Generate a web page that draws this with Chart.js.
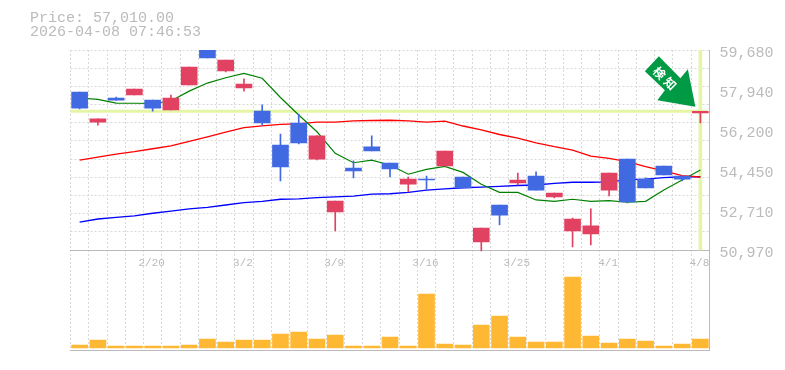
<!DOCTYPE html>
<html>
<head>
<meta charset="utf-8">
<style>
  html, body { margin: 0; background: #fff; }
  canvas { display: block; }
</style>
<script src="https://cdn.jsdelivr.net/npm/chart.js@4"></script>
</head>
<body>
<canvas id="chart" width="785" height="370"></canvas>
<script>
const categories = ['', '', '', '', '2/20', '', '', '', '', '3/2', '', '', '', '', '3/9', '', '', '', '', '3/16', '', '', '', '', '3/25', '', '', '', '', '4/1', '', '', '', '', '4/8'];
const opens = [57850, 56540, 57590, 57720, 57500, 57070, 58160, 59850, 58770, 58030, 57020, 55540, 56500, 54930, 52630, 54540, 55460, 54760, 53840, 54060, 54630, 54150, 51320, 52930, 53890, 54190, 53280, 51800, 51670, 53580, 54930, 54060, 54630, 54190, 56940];
const closes = [57150, 56680, 57500, 57980, 57150, 57590, 58940, 59330, 59240, 58200, 56500, 54590, 55630, 55940, 53100, 54410, 55280, 54500, 54060, 54020, 55280, 53670, 51930, 52490, 54020, 53580, 53450, 52320, 52020, 54320, 53060, 53670, 54240, 54060, 57010];
const highs = [57850, 56680, 57630, 57980, 57500, 57720, 58940, 59850, 59240, 58420, 57290, 56020, 56890, 55940, 53100, 54850, 55940, 54760, 54150, 54190, 55280, 54150, 51930, 52930, 54320, 54370, 53450, 52360, 52760, 54320, 54930, 54110, 54630, 54190, 57010];
const lows = [57110, 56410, 57500, 57720, 57020, 57070, 58160, 59330, 58720, 57890, 56410, 53980, 55590, 54890, 51800, 54110, 55280, 54150, 53500, 53630, 54630, 53670, 50930, 52060, 53800, 53580, 53240, 51100, 51190, 53320, 53020, 53670, 54240, 53980, 56500];
const maShort = [57590, 57530, 57370, 57360, 57350, 57460, 57890, 58240, 58470, 58660, 58450, 57610, 56850, 56120, 55180, 54770, 54880, 54670, 54270, 54480, 54610, 54350, 53830, 53480, 53480, 53150, 53090, 53180, 53090, 53120, 53050, 53090, 53580, 54020, 54450];
const maMid = [54880, 55010, 55150, 55250, 55380, 55500, 55700, 55900, 56100, 56300, 56380, 56440, 56460, 56540, 56540, 56590, 56610, 56620, 56590, 56540, 56580, 56370, 56200, 56000, 55840, 55640, 55470, 55320, 55060, 54960, 54820, 54600, 54420, 54210, 54150];
const maLong = [52180, 52320, 52390, 52460, 52570, 52660, 52760, 52830, 52930, 53030, 53090, 53180, 53200, 53250, 53280, 53320, 53400, 53420, 53480, 53580, 53630, 53680, 53710, 53740, 53780, 53800, 53870, 53920, 53920, 53940, 54020, 54060, 54120, 54160, 54160];
const volumes = [3, 8, 2, 2, 2, 2, 3, 9, 6, 8, 8, 14, 16, 9, 13, 2, 2, 11, 2, 54, 4, 3, 23, 32, 11, 6, 6, 71, 12, 5, 9, 7, 2, 4, 9];
const priceTicks = [59680, 57940, 56200, 54450, 52710, 50970];
const gridRows = [0, 1, 2, 3, 4, 5, 6, 7, 8, 9, 10, 11];
const currentPrice = 57010;
const priceText = 'Price: 57,010.00';
const timeText = '2026-04-08 07:46:53';

const RED = '#e24262';
const BLUE = '#4169e1';
const LIME = '#e4f5a6';
const GRID = '#d8d8d8';
const EDGE = '#bbbbbb';
const TEXT = '#bbbbbb';

const bodies = opens.map((o, i) => [o, closes[i]]);
const wicks = lows.map((l, i) => [l, highs[i]]);
const candleColors = opens.map((o, i) => closes[i] >= o ? RED : BLUE);
const lastIndex = categories.length - 1;
const priceMarker = categories.map((_, i) => i === lastIndex ? [priceTicks[5], priceTicks[0]] : null);

// current price line, heading text and the green arrow
const extras = {
  id: 'extras',
  beforeDatasetsDraw(chart) {
    const { ctx, chartArea, scales } = chart;
    const y = scales.y.getPixelForValue(currentPrice);
    ctx.save();
    ctx.strokeStyle = LIME;
    ctx.lineWidth = 3;
    ctx.beginPath();
    ctx.moveTo(chartArea.left, y);
    ctx.lineTo(chartArea.right - 2, y);
    ctx.stroke();
    ctx.restore();
  },
  afterDatasetsDraw(chart) {
    const { ctx, scales } = chart;
    const tipX = scales.x.getPixelForValue(lastIndex) - 5;
    const tipY = scales.y.getPixelForValue(currentPrice) - 4.5;
    ctx.save();
    ctx.fillStyle = '#009944';
    ctx.beginPath();
    ctx.moveTo(tipX, tipY);
    ctx.lineTo(tipX - 7.5, tipY - 37.5);
    ctx.lineTo(tipX - 15, tipY - 28.5);
    ctx.lineTo(tipX - 36.5, tipY - 50.5);
    ctx.lineTo(tipX - 50.5, tipY - 35.5);
    ctx.lineTo(tipX - 30.5, tipY - 16.5);
    ctx.lineTo(tipX - 38, tipY - 6.5);
    ctx.closePath();
    ctx.fill();
    ctx.translate(tipX - 29.5, tipY - 27.5);
    ctx.rotate(Math.PI / 4);
    ctx.fillStyle = '#fff';
    ctx.font = 'bold 12px "Noto Sans CJK JP"';
    ctx.letterSpacing = '3px';
    ctx.textAlign = 'center';
    ctx.textBaseline = 'middle';
    ctx.fillText('検知', 0, 0);
    ctx.restore();

    ctx.save();
    ctx.fillStyle = TEXT;
    ctx.font = '15px "Liberation Mono"';
    ctx.textBaseline = 'middle';
    ctx.fillText(priceText, 30, 18);
    ctx.fillText(timeText, 30, 32);
    ctx.restore();
  }
};

new Chart(document.getElementById('chart'), {
  type: 'bar',
  plugins: [extras],
  data: {
    labels: categories,
    datasets: [
      { data: bodies, backgroundColor: candleColors, barThickness: 16, grouped: false, order: 1 },
      { data: wicks, backgroundColor: candleColors, barThickness: 1, grouped: false, order: 2 },
      { type: 'line', data: maShort, borderColor: '#008000', borderWidth: 1.2, pointRadius: 0, order: 3 },
      { type: 'line', data: maMid, borderColor: '#ff0000', borderWidth: 1.3, pointRadius: 0, order: 3 },
      { type: 'line', data: maLong, borderColor: '#0000ff', borderWidth: 1.3, pointRadius: 0, order: 3 },
      { data: priceMarker, backgroundColor: LIME, barThickness: 3, grouped: false, order: 4 },
      { data: volumes, yAxisID: 'yVol', backgroundColor: '#ffb833', barThickness: 16, grouped: false, order: 5 }
    ]
  },
  options: {
    responsive: false,
    animation: false,
    layout: { padding: { left: 70.5, top: 50, right: 0, bottom: 20 } },
    plugins: { legend: { display: false }, tooltip: { enabled: false } },
    scales: {
      x: {
        offset: true,
        grid: { color: GRID, offset: true, drawTicks: false },
        border: { display: true, color: EDGE, width: 1, dash: [2, 2] },
        ticks: { display: false }
      },
      xDates: {
        type: 'category',
        labels: categories,
        offset: true,
        position: { y: priceTicks[5] },
        grid: { display: false, drawTicks: false },
        border: { display: true, color: EDGE, width: 1 },
        ticks: {
          autoSkip: false, maxRotation: 0, padding: 6, labelOffset: -1, color: TEXT,
          font: { family: '"Liberation Mono"', size: 11 }
        }
      },
      y: {
        position: 'right',
        min: 46615,
        max: priceTicks[0],
        afterBuildTicks: scale => { scale.ticks = priceTicks.map(value => ({ value })); },
        afterFit: scale => { scale.width = 75.5; },
        grid: { display: false, drawTicks: false },
        border: { display: true, color: EDGE, width: 1 },
        ticks: {
          padding: 10, labelOffset: 3, color: TEXT,
          font: { family: '"Liberation Mono"', size: 15 },
          callback: value => value.toLocaleString('en-US')
        }
      },
      yGrid: {
        position: 'right',
        reverse: true,
        min: 0,
        max: 16.5,
        afterBuildTicks: scale => { scale.ticks = gridRows.map(value => ({ value })); },
        afterFit: scale => { scale.width = 0; },
        grid: { color: GRID, drawTicks: false },
        border: { display: false, dash: [2, 2] },
        ticks: { display: false }
      },
      yVol: { display: false, min: -2, max: 298 }
    }
  }
});
</script>
</body>
</html>
